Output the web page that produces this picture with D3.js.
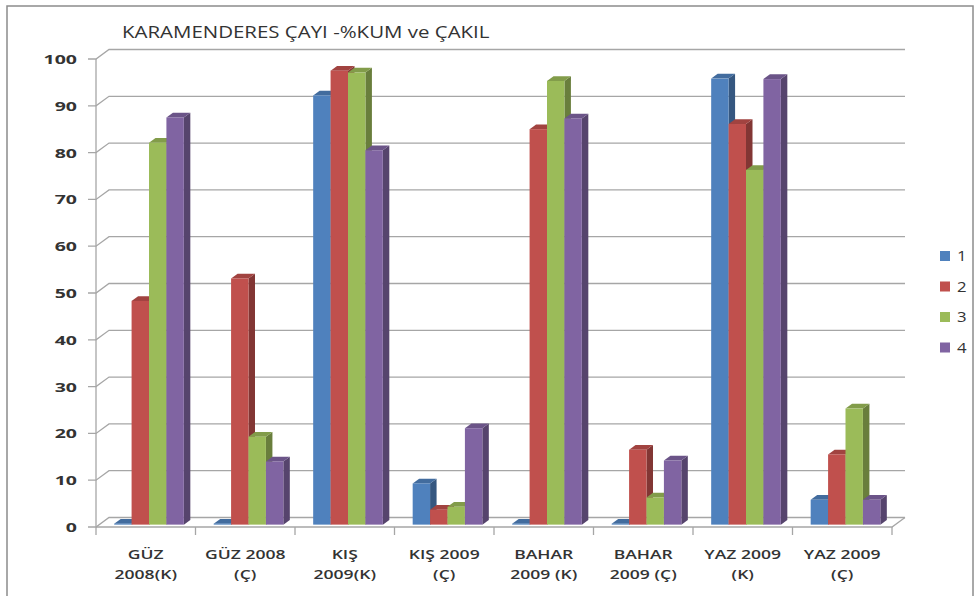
<!DOCTYPE html>
<html>
<head>
<meta charset="utf-8">
<script src="https://cdn.jsdelivr.net/npm/d3@7"></script>
<style>
  body { margin: 0; background: #fff; }
  text { font-family: "Open Sans", "Liberation Sans", sans-serif; fill: #333; }
</style>
</head>
<body>
<div id="chart"></div>
<script>
// categories and series
var categories = [
  ["GÜZ", "2008(K)"], ["GÜZ 2008", "(Ç)"], ["KIŞ", "2009(K)"], ["KIŞ 2009", "(Ç)"],
  ["BAHAR", "2009 (K)"], ["BAHAR", "2009 (Ç)"], ["YAZ 2009", "(K)"], ["YAZ 2009", "(Ç)"]
];
var seriesNames = ["1", "2", "3", "4"];
var s1 = [0.2, 0.2, 91.7, 8.8, 0.2, 0.2, 95.3, 5.3];
var s2 = [47.8, 52.6, 97.0, 3.2, 84.5, 16.0, 85.6, 15.0];
var s3 = [81.6, 18.8, 96.6, 3.8, 94.8, 5.8, 75.8, 24.8];
var s4 = [87.0, 13.5, 80.0, 20.6, 86.8, 13.7, 95.2, 5.3];
var yTicks = [0, 10, 20, 30, 40, 50, 60, 70, 80, 90, 100];
var title = "KARAMENDERES ÇAYI -%KUM ve ÇAKIL";

var allSeries = [s1, s2, s3, s4];
var colors = ["#4F81BD", "#C0504D", "#9BBB59", "#8064A2"];

var W = 979, H = 596;
var svg = d3.select("#chart").append("svg")
  .attr("width", W).attr("height", H);

// outer frame
svg.append("rect")
  .attr("x", 7).attr("y", 6).attr("width", 966).attr("height", 592)
  .attr("fill", "none").attr("stroke", "#8c8c8c").attr("stroke-width", 1.5);

// 3d depth offset
var DX = 13, DY = 9.5;

var x = d3.scaleBand()
  .domain(d3.range(categories.length))
  .range([96, 892])
  .padding(0);

var y = d3.scaleLinear()
  .domain([0, 100])
  .range([527, 59]);

var xSub = d3.scaleBand()
  .domain(d3.range(seriesNames.length))
  .range([x.bandwidth() * 0.15, x.bandwidth() * 0.85])
  .padding(0);

// the original picture is stretched sideways, so text is too
function stretched(sel, sx) {
  sel.attr("transform", function() {
    var t = d3.select(this);
    var xx = +t.attr("x"), yy = +t.attr("y");
    return "translate(" + xx + "," + yy + ") scale(" + sx + ",1) translate(" + (-xx) + "," + (-yy) + ")";
  });
}

var grid = svg.append("g")
  .attr("stroke", "#a6a6a6").attr("stroke-width", 1.3).attr("fill", "none");

// back wall gridlines + left wall diagonals
yTicks.forEach(function(v) {
  var yy = y(v);
  grid.append("path")
    .attr("d", "M" + (x.range()[0] - 8) + "," + yy +
               "L" + x.range()[0] + "," + yy +
               "L" + (x.range()[0] + DX) + "," + (yy - DY) +
               "L" + (x.range()[1] + DX) + "," + (yy - DY));
});

// floor
grid.append("path")
  .attr("d", "M" + x.range()[0] + "," + y(0) +
             "L" + x.range()[1] + "," + y(0) +
             "L" + (x.range()[1] + DX) + "," + (y(0) - DY));
// front vertical axis
grid.append("line")
  .attr("x1", x.range()[0]).attr("x2", x.range()[0])
  .attr("y1", y(0)).attr("y2", y(100));
// category ticks
d3.range(categories.length + 1).forEach(function(i) {
  var xx = x.range()[0] + i * x.step();
  grid.append("line")
    .attr("x1", xx).attr("x2", xx)
    .attr("y1", y(0)).attr("y2", y(0) + 8);
});

// y labels
svg.append("g").selectAll("text")
  .data(yTicks).enter().append("text")
  .attr("x", 77).attr("y", function(d) { return y(d) + 5; })
  .attr("text-anchor", "end")
  .attr("font-size", 13).attr("font-weight", 700)
  .text(function(d) { return d; })
  .call(stretched, 1.5);

// category labels
var cl = svg.append("g").selectAll("text")
  .data(categories).enter().append("text")
  .attr("text-anchor", "middle")
  .attr("font-size", 13).attr("font-weight", 600)
  .attr("x", function(d, i) { return x(i) + x.bandwidth() / 2; })
  .attr("y", 559);
cl.append("tspan").text(function(d) { return d[0]; });
cl.append("tspan")
  .attr("x", function(d, i) { return x(i) + x.bandwidth() / 2; })
  .attr("dy", 20)
  .text(function(d) { return d[1]; });
cl.call(stretched, 1.35);

// bars
var z0 = 0.25, z1 = 0.75;
var bars = svg.append("g");
categories.forEach(function(c, ci) {
  allSeries.forEach(function(s, si) {
    var v = s[ci];
    var xl = x(ci) + xSub(si) + z0 * DX;
    var xr = xl + xSub.bandwidth();
    var yb = y(0) - z0 * DY;
    var yt = y(v) - z0 * DY;
    var ddx = (z1 - z0) * DX, ddy = (z1 - z0) * DY;
    var col = d3.color(colors[si]);
    var g = bars.append("g");
    // side
    g.append("path")
      .attr("d", "M" + xr + "," + yb + "L" + xr + "," + yt +
                 "L" + (xr + ddx) + "," + (yt - ddy) +
                 "L" + (xr + ddx) + "," + (yb - ddy) + "Z")
      .attr("fill", col.darker(1.1));
    // top
    g.append("path")
      .attr("d", "M" + xl + "," + yt + "L" + xr + "," + yt +
                 "L" + (xr + ddx) + "," + (yt - ddy) +
                 "L" + (xl + ddx) + "," + (yt - ddy) + "Z")
      .attr("fill", col.darker(0.5));
    // front
    g.append("rect")
      .attr("x", xl).attr("y", yt)
      .attr("width", xSub.bandwidth())
      .attr("height", Math.max(0, yb - yt))
      .attr("fill", colors[si]);
  });
});

// title
svg.append("text")
  .attr("x", 122).attr("y", 38)
  .attr("font-size", 15.5)
  .attr("fill", "#222")
  .text(title)
  .call(stretched, 1.32);

// legend
var lg = svg.append("g").selectAll("g")
  .data(seriesNames).enter().append("g")
  .attr("transform", function(d, i) { return "translate(940," + (251 + i * 30.5) + ")"; });
lg.append("rect").attr("width", 10).attr("height", 10)
  .attr("fill", function(d, i) { return colors[i]; });
lg.append("text").attr("x", 17).attr("y", 10)
  .attr("font-size", 14)
  .text(function(d) { return d; })
  .call(stretched, 1.2);
</script>
</body>
</html>
